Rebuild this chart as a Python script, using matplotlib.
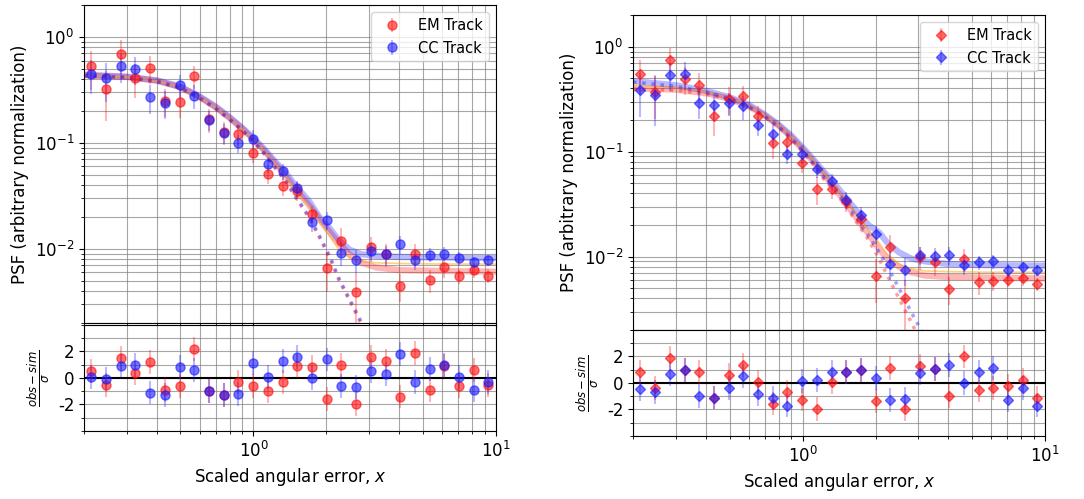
import numpy as np
import matplotlib
matplotlib.use("Agg")
import matplotlib.pyplot as plt
from matplotlib.ticker import MultipleLocator

plt.rcParams['axes.unicode_minus'] = False

# bin centres (scaled angular error)
x_bins = [0.214, 0.247, 0.284, 0.326, 0.375, 0.431, 0.496, 0.570, 0.656, 0.754,
          0.867, 0.997, 1.146, 1.318, 1.516, 1.743, 2.004, 2.305, 2.650, 3.047,
          3.504, 4.029, 4.633, 5.328, 6.126, 7.044, 8.100, 9.314]

# ---- left panel: measured PSF ----
em_l = [0.53, 0.32, 0.69, 0.41, 0.51, 0.25, 0.245, 0.43, 0.167, 0.127,
        0.121, 0.081, 0.0515, 0.0394, 0.0354, 0.0213, 0.0066, 0.0120, 0.0039, 0.0104,
        0.0090, 0.0045, 0.0090, 0.0051, 0.0067, 0.0055, 0.0063, 0.0056]
cc_l = [0.45, 0.41, 0.53, 0.50, 0.27, 0.24, 0.35, 0.28, 0.165, 0.125,
        0.100, 0.110, 0.063, 0.054, 0.0375, 0.0180, 0.0187, 0.0092, 0.0078, 0.0095,
        0.0089, 0.0111, 0.0079, 0.0088, 0.0090, 0.0082, 0.0075, 0.0079]
em_l_rel = [0.4, 0.5, 0.35, 0.35, 0.3, 0.3, 0.3, 0.25, 0.25, 0.25,
            0.22, 0.2, 0.2, 0.2, 0.2, 0.2, 0.4, 0.3, 0.5, 0.25,
            0.25, 0.3, 0.25, 0.25, 0.2, 0.15, 0.15, 0.15]
cc_l_rel = [0.35, 0.4, 0.3, 0.3, 0.3, 0.3, 0.25, 0.25, 0.22, 0.22,
            0.2, 0.2, 0.18, 0.18, 0.18, 0.2, 0.2, 0.25, 0.25, 0.2,
            0.2, 0.2, 0.2, 0.15, 0.15, 0.15, 0.12, 0.12]
res_em_l = [0.5, -0.5, 1.5, 0.4, 1.2, -0.9, -0.6, 2.2, -1.0, -1.3,
            -0.3, -0.6, -1.0, -0.3, 0.9, 0.8, -1.6, 1.0, -2.0, 1.6,
            1.3, -1.4, 1.9, -0.9, 0.9, -0.6, 0.6, -0.5]
res_cc_l = [0.1, -0.1, 0.9, 1.0, -1.1, -1.3, 0.8, 0.6, -1.0, -1.3,
            -1.2, 1.1, 0.1, 1.3, 1.6, 0.0, 1.4, -0.6, -0.7, 0.5,
            0.3, 1.8, -0.3, 0.7, 1.0, 0.1, -0.9, -0.3]

# ---- right panel: measured PSF ----
em_r = [0.55, 0.37, 0.75, 0.49, 0.43, 0.217, 0.32, 0.34, 0.217, 0.121,
        0.123, 0.078, 0.044, 0.044, 0.033, 0.023, 0.0066, 0.0123, 0.0040, 0.0099,
        0.0088, 0.0049, 0.0095, 0.0057, 0.0059, 0.0060, 0.0062, 0.0055]
cc_r = [0.39, 0.35, 0.54, 0.55, 0.29, 0.28, 0.29, 0.27, 0.18, 0.146,
        0.096, 0.096, 0.068, 0.052, 0.035, 0.025, 0.0164, 0.0086, 0.0075, 0.0104,
        0.0101, 0.0104, 0.0083, 0.0088, 0.0090, 0.0074, 0.0079, 0.0074]
em_r_rel = [0.35, 0.45, 0.3, 0.3, 0.3, 0.35, 0.3, 0.25, 0.25, 0.3,
            0.25, 0.2, 0.3, 0.2, 0.2, 0.2, 0.45, 0.3, 0.5, 0.25,
            0.25, 0.3, 0.25, 0.25, 0.2, 0.15, 0.15, 0.15]
cc_r_rel = [0.45, 0.5, 0.3, 0.3, 0.3, 0.3, 0.25, 0.25, 0.22, 0.22,
            0.2, 0.2, 0.18, 0.18, 0.18, 0.2, 0.2, 0.3, 0.3, 0.2,
            0.2, 0.2, 0.2, 0.15, 0.15, 0.15, 0.12, 0.12]
res_em_r = [0.8, -0.4, 1.9, 1.0, 0.8, -1.1, 0.6, 1.35, 0.05, -1.55,
            -0.65, -1.25, -1.95, 0.05, 0.8, 1.0, -1.35, 1.15, -1.95, 1.3,
            1.05, -1.0, 2.0, -0.5, -0.4, -0.25, 0.25, -1.1]
res_cc_r = [-0.45, -0.65, 0.7, 1.0, -1.0, -1.1, -0.35, 0.5, -0.85, -1.1,
            -1.7, 0.15, 0.2, 0.85, 0.85, 1.0, 0.4, -1.3, -1.2, 0.75,
            1.05, 1.35, 0.0, 0.85, 1.15, -1.3, -0.4, -1.7]

# ---- model curves ----
x_fit = [0.2, 0.3, 0.4, 0.5, 0.6, 0.7, 0.8, 0.9, 1.0, 1.1, 1.2, 1.35, 1.5, 1.7,
         1.87, 2.07, 2.24, 2.5, 2.8, 3.2, 4.0, 6.0, 10.0]
fit_em_l = [0.436, 0.42, 0.386, 0.336, 0.27, 0.216, 0.171, 0.136, 0.108, 0.086, 0.068, 0.050,
            0.036, 0.0257, 0.0191, 0.0143, 0.0114, 0.0088, 0.0074, 0.0067, 0.0063, 0.0062, 0.0061]
fit_cc_l = [0.44, 0.423, 0.39, 0.34, 0.275, 0.22, 0.174, 0.139, 0.111, 0.089, 0.071, 0.053,
            0.039, 0.028, 0.020, 0.0155, 0.0122, 0.0098, 0.0089, 0.0086, 0.0084, 0.0083, 0.0082]
fit_or_l = [0.435, 0.42, 0.385, 0.335, 0.27, 0.215, 0.17, 0.135, 0.107, 0.085, 0.067, 0.049,
            0.035, 0.025, 0.018, 0.0130, 0.0100, 0.0082, 0.0076, 0.0074, 0.0073, 0.0072, 0.0072]
fit_em_r = [0.40, 0.39, 0.36, 0.32, 0.27, 0.22, 0.175, 0.137, 0.105, 0.082, 0.064, 0.046,
            0.033, 0.022, 0.0165, 0.0118, 0.0095, 0.0080, 0.0071, 0.0066, 0.0064, 0.0063, 0.0062]
fit_cc_r = [0.47, 0.43, 0.38, 0.33, 0.28, 0.225, 0.18, 0.142, 0.11, 0.086, 0.068, 0.050,
            0.037, 0.026, 0.020, 0.0170, 0.0135, 0.0110, 0.0096, 0.0090, 0.0085, 0.0083, 0.0082]
fit_or_r = [0.43, 0.41, 0.37, 0.325, 0.275, 0.222, 0.177, 0.139, 0.107, 0.084, 0.066, 0.048,
            0.035, 0.024, 0.018, 0.0135, 0.0105, 0.0085, 0.0077, 0.0073, 0.0072, 0.0071, 0.0071]

x_core = [0.2, 0.3, 0.4, 0.5, 0.6, 0.7, 0.8, 0.9, 1.0, 1.1, 1.2, 1.35, 1.5, 1.7,
          1.87, 2.07, 2.24, 2.5, 2.8, 3.2]
core_em_l = [0.43, 0.415, 0.38, 0.33, 0.265, 0.21, 0.165, 0.13, 0.102, 0.08, 0.062, 0.044,
             0.030, 0.0195, 0.0129, 0.0081, 0.0052, 0.0032, 0.0019, 0.0010]
core_cc_l = [0.432, 0.417, 0.382, 0.332, 0.267, 0.212, 0.167, 0.132, 0.104, 0.082, 0.063, 0.045,
             0.031, 0.0200, 0.0133, 0.0084, 0.0054, 0.0033, 0.0020, 0.0011]
core_em_r = [0.395, 0.385, 0.355, 0.315, 0.265, 0.215, 0.17, 0.132, 0.10, 0.077, 0.058, 0.042,
             0.031, 0.020, 0.0145, 0.0095, 0.0066, 0.0040, 0.0024, 0.0013]
core_cc_r = [0.46, 0.42, 0.37, 0.32, 0.27, 0.217, 0.172, 0.134, 0.102, 0.079, 0.060, 0.044,
             0.033, 0.022, 0.016, 0.0110, 0.0080, 0.0050, 0.0030, 0.0017]

ROJO = (1.0, 0.05, 0.05)
AZUL = (0.1, 0.1, 1.0)


def panel(ax, axr, em, cc, em_rel, cc_rel, res_em, res_cc,
          fit_em, fit_cc, fit_or, core_em, core_cc, marker):
    # curvas del modelo
    ax.plot(x_fit, fit_em, color=ROJO, alpha=0.3, lw=4.5, zorder=2)
    ax.plot(x_fit, fit_cc, color=AZUL, alpha=0.3, lw=4.5, zorder=2)
    ax.plot(x_fit, fit_or, color='orange', alpha=0.5, lw=1.2, zorder=2)
    ax.plot(x_core, core_em, color=ROJO, alpha=0.4, lw=2.5, ls=':', zorder=2)
    ax.plot(x_core, core_cc, color=AZUL, alpha=0.4, lw=2.5, ls=':', zorder=2)

    # puntos con errores
    ms = 6.5 if marker == 'o' else 5.5
    for vals, rel, col, lab in [(em, em_rel, ROJO, 'EM Track'), (cc, cc_rel, AZUL, 'CC Track')]:
        err = np.array(vals) * np.array(rel)
        ax.errorbar(x_bins, vals, yerr=err, fmt=marker, ms=ms,
                    mfc=col + (0.6,), mec=col + (0.6,), ecolor=col + (0.3,),
                    elinewidth=1.5, zorder=3, label=lab)

    ax.set_xscale('log')
    ax.set_yscale('log')
    ax.set_xlim(0.2, 10)
    ax.set_ylim(0.002, 2)
    ax.grid(True, which='both', color='0.5', lw=0.8, alpha=0.7)
    ax.tick_params(labelbottom=False, labelsize=12)
    ax.set_ylabel('PSF (arbitrary normalization)', fontsize=12)
    ax.legend(loc='upper right', fontsize=10.5, framealpha=0.8)

    # residuos
    for vals, col in [(res_em, ROJO), (res_cc, AZUL)]:
        axr.errorbar(x_bins, vals, yerr=0.9, fmt=marker, ms=ms,
                     mfc=col + (0.6,), mec=col + (0.6,), ecolor=col + (0.3,),
                     elinewidth=1.5, zorder=3)
    axr.axhline(0, color='black', lw=1.5, zorder=2)
    axr.set_xscale('log')
    axr.set_xlim(0.2, 10)
    axr.set_ylim(-4, 4)
    axr.set_yticks([-2, 0, 2])
    axr.yaxis.set_minor_locator(MultipleLocator(1))
    axr.grid(True, which='both', color='0.5', lw=0.8, alpha=0.7)
    axr.tick_params(labelsize=12)
    axr.set_ylabel(r'$\frac{obs-sim}{\sigma}$', fontsize=12)
    axr.set_xlabel('Scaled angular error, $x$', fontsize=12)


fig = plt.figure(figsize=(10.84, 4.99), dpi=100)

ax1 = fig.add_axes([0.0775, 0.3527, 0.380, 0.637])
ax1r = fig.add_axes([0.0775, 0.1363, 0.380, 0.2124])
ax2 = fig.add_axes([0.584, 0.3387, 0.380, 0.631])
ax2r = fig.add_axes([0.584, 0.1263, 0.380, 0.2124])

panel(ax1, ax1r, em_l, cc_l, em_l_rel, cc_l_rel, res_em_l, res_cc_l,
      fit_em_l, fit_cc_l, fit_or_l, core_em_l, core_cc_l, 'o')
panel(ax2, ax2r, em_r, cc_r, em_r_rel, cc_r_rel, res_em_r, res_cc_r,
      fit_em_r, fit_cc_r, fit_or_r, core_em_r, core_cc_r, 'D')

fig.savefig('out.png', dpi=100)
